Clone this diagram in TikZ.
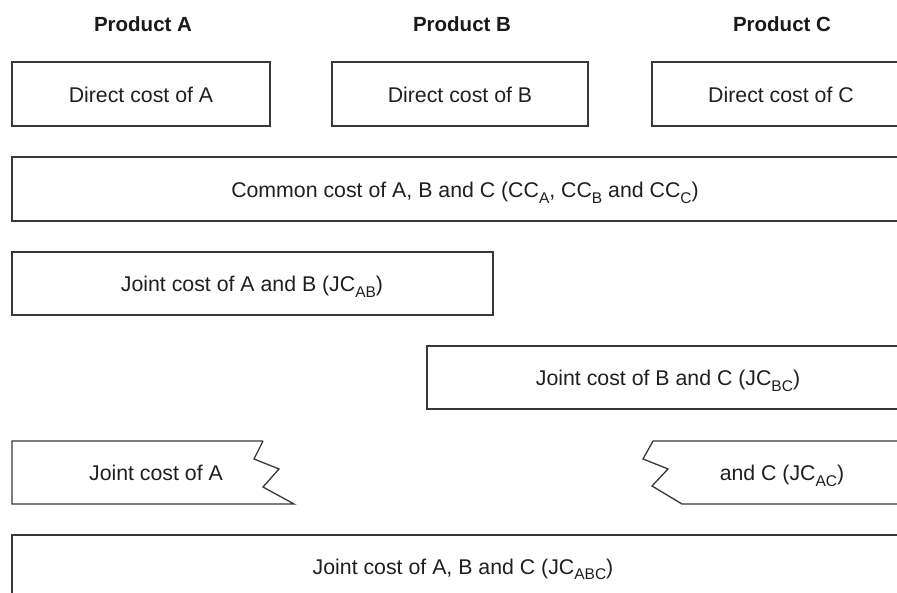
\documentclass[tikz,border=0pt]{standalone}
\usepackage{fontspec}
\setmainfont{Liberation Sans}
\newcommand\lowidx[1]{\raisebox{-0.28em}{\fontsize{15.5}{15.5}\selectfont #1}}
\tikzset{
  costline/.style={line width=1.3pt, draw=black!78},
  label/.style={font=\fontsize{21.3}{25}\selectfont, text=black!88, inner sep=0pt, anchor=base},
  head/.style={font=\fontsize{20.5}{24}\selectfont\bfseries, text=black!90, inner sep=0pt, anchor=base},
}
\begin{document}
\begin{tikzpicture}[x=1pt,y=-1pt]
\useasboundingbox (0,0) rectangle (897,593);
\clip (0,0) rectangle (897,593);

% column headings
\node[head] (hA) at (143,31.5) {Product A};
\node[head] (hB) at (462,31.5) {Product B};
\node[head] (hC) at (782,31.5) {Product C};

% direct costs
\draw[costline] (12,62) rectangle (270,126);
\draw[costline] (332,62) rectangle (588,126);
\draw[costline] (900,62) -- (652,62) -- (652,126) -- (900,126);
\node[label] (dA) at (141,102.5) {Direct cost of A};
\node[label] (dB) at (460,102.5) {Direct cost of B};
\node[label] (dC) at (781,102.5) {Direct cost of C};

% common cost
\draw[costline] (900,157) -- (12,157) -- (12,221) -- (900,221);
\node[label] (cc) at (465,197.5) {Common cost of A, B and C (CC\lowidx{A}, CC\lowidx{B} and CC\lowidx{C})};

% joint cost of A and B
\draw[costline] (12,252) rectangle (493,315);
\node[label] (jab) at (252,292) {Joint cost of A and B (JC\lowidx{AB})};

% joint cost of B and C
\draw[costline] (900,346) -- (427,346) -- (427,409) -- (900,409);
\node[label] (jbc) at (668,386) {Joint cost of B and C (JC\lowidx{BC})};

% joint cost of A and C, broken in the middle
\draw[costline, line join=miter] (263,441) -- (12,441) -- (12,504) -- (294,504)
  -- (263,487) -- (279,469) -- (254,459) -- (263,441);
\draw[costline, line join=miter] (900,441) -- (653,441) -- (643,459) -- (668,469)
  -- (652,486) -- (682,504) -- (900,504);
\node[label] (jacl) at (156,480.5) {Joint cost of A};
\node[label] (jacr) at (782,480.5) {and C (JC\lowidx{AC})};

% joint cost of A, B and C
\draw[costline] (900,535) -- (12,535) -- (12,600);
\node[label] (jabc) at (463,574) {Joint cost of A, B and C (JC\lowidx{ABC})};
\end{tikzpicture}
\end{document}
